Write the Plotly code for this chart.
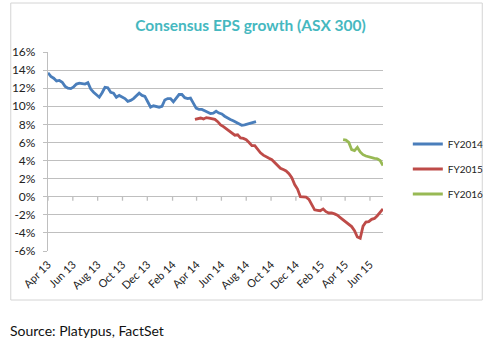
import plotly.graph_objects as go
import pandas as pd

# ---- data (percent) ----
fy2014_start = "2013-04-01"
fy2014 = [13.7, 13.3, 13.1, 12.8, 12.85, 12.65, 12.2, 12.0, 11.95, 12.15, 12.45, 12.55, 12.5, 12.45,
          12.6, 11.9, 11.55, 11.3, 11.0, 11.5, 12.1, 12.05, 11.55, 11.45, 11.0, 11.2, 11.0, 10.85,
          10.55, 10.65, 10.85, 11.1, 11.45, 11.2, 11.1, 10.5, 9.9, 10.05, 9.95, 9.9, 10.0, 10.7,
          10.85, 10.85, 10.5, 10.85, 11.3, 11.3, 10.95, 10.85, 10.9, 10.35, 9.8, 9.65, 9.65, 9.5,
          9.35, 9.2, 9.25, 9.45, 9.25, 9.15, 8.9, 8.7, 8.55, 8.4, 8.25, 8.05, 7.9, 7.95, 8.05,
          8.1, 8.2, 8.3]
fy2015_start = "2014-03-28"
fy2015 = [8.55, 8.6, 8.7, 8.6, 8.75, 8.7, 8.6, 8.55, 8.3, 7.95, 7.75, 7.5, 7.3, 7.1, 6.8, 6.85,
          6.5, 6.45, 6.3, 6.0, 5.65, 5.65, 5.2, 4.85, 4.6, 4.4, 4.25, 4.1, 3.75, 3.45, 3.15, 3.0,
          2.85, 2.55, 2.1, 1.35, 0.85, 0.0, -0.05, -0.05, -0.3, -0.95, -1.45, -1.5, -1.55, -1.35,
          -1.65, -1.8, -1.8, -1.9, -2.05, -2.3, -2.55, -2.85, -3.15, -3.3, -3.75, -4.45, -4.6,
          -3.25, -2.8, -2.75, -2.5, -2.4, -2.1, -1.7, -1.35]
fy2016_start = "2015-03-27"
fy2016 = [6.3, 6.25, 6.0, 5.2, 5.1, 5.45, 4.95, 4.65, 4.5, 4.4, 4.3, 4.25, 4.2, 4.0, 3.45]

series_names = ["FY2014", "FY2015", "FY2016"]
series_colors = ["#4A7EBB", "#BE4B48", "#98B954"]

x_range = ["2013-04-01", "2015-07-03"]
x_tick_dates = ["2013-04-01", "2013-06-01", "2013-08-01", "2013-10-01", "2013-12-01",
                "2014-02-01", "2014-04-01", "2014-06-01", "2014-08-01", "2014-10-01",
                "2014-12-01", "2015-02-01", "2015-04-01", "2015-06-01"]
x_tick_text = ["Apr 13", "Jun 13", "Aug 13", "Oct 13", "Dec 13", "Feb 14", "Apr 14",
               "Jun 14", "Aug 14", "Oct 14", "Dec 14", "Feb 15", "Apr 15", "Jun 15"]
y_range = [-6, 16]
y_tick_vals = [-6, -4, -2, 0, 2, 4, 6, 8, 10, 12, 14, 16]
y_tick_text = ["-6%", "-4%", "-2%", "0%", "2%", "4%", "6%", "8%", "10%", "12%", "14%", "16%"]

title_text = "Consensus EPS growth (ASX 300)"
source_text = "Source: Platypus, FactSet"

# ---- figure ----
W, H = 501, 341
ML, MR, MT, MB = 42, 108, 52, 90
pw, ph = W - ML - MR, H - MT - MB

def px_x(p):
    return (p - ML) / pw

def px_y(p):
    return (H - MB - p) / ph

fig = go.Figure()
for name, color, start, vals in zip(series_names, series_colors,
                                     [fy2014_start, fy2015_start, fy2016_start],
                                     [fy2014, fy2015, fy2016]):
    dates = pd.date_range(start=start, periods=len(vals), freq="7D")
    fig.add_trace(go.Scatter(x=dates, y=vals, mode="lines", name=name, legendgroup=name,
                             line=dict(color=color, width=2.8), hoverinfo="skip"))

font_family = "Lato, 'Open Sans', sans-serif"
grid_col = "#BFBFBF"

# small tick marks hanging below the 0% line (category axis crosses at zero)
tick_shapes = [dict(type="line", xref="x", yref="y", ysizemode="pixel", yanchor=0,
                    x0=d, x1=d, y0=0, y1=-4, line=dict(color=grid_col, width=1.3))
               for d in x_tick_dates]

fig.update_layout(
    width=W, height=H,
    margin=dict(l=ML, r=MR, t=MT, b=MB),
    paper_bgcolor="white", plot_bgcolor="white",
    font=dict(family=font_family, color="#222222", size=11),
    title=dict(text=title_text, x=0.5, xref="container", xanchor="center",
               y=1 - 26 / H, yref="container", yanchor="middle",
               font=dict(family=font_family, size=15.5, color="#45B8C0", weight="bold")),
    xaxis=dict(type="date", range=x_range, tickvals=x_tick_dates, ticktext=x_tick_text,
               tickangle=-45, showgrid=False, zeroline=False, showline=False, ticks="",
               tickfont=dict(size=11, color="#222222"), ticklabelstandoff=4),
    yaxis=dict(range=y_range, tickvals=y_tick_vals, ticktext=y_tick_text,
               showgrid=True, gridcolor=grid_col, gridwidth=1.3,
               zeroline=False, showline=True, linecolor=grid_col, linewidth=1.3,
               ticks="outside", ticklen=4, tickcolor=grid_col,
               tickfont=dict(size=12, color="#222222"), ticklabelstandoff=5),
    legend=dict(x=px_x(419), xanchor="left", y=px_y(169), yanchor="middle",
                font=dict(size=10, color="#222222"), tracegroupgap=6,
                bgcolor="rgba(0,0,0,0)"),
    shapes=[dict(type="rect", xref="paper", yref="paper",
                 x0=px_x(3), x1=px_x(497), y0=px_y(300), y1=px_y(3),
                 line=dict(color="#D4D4D4", width=1), layer="below")] + tick_shapes,
    annotations=[dict(text=source_text, xref="paper", yref="paper",
                      x=px_x(0), y=px_y(330), xanchor="left", yanchor="middle",
                      showarrow=False, font=dict(size=14, color="#111111", family=font_family))],
)

fig.write_html("out.html")
